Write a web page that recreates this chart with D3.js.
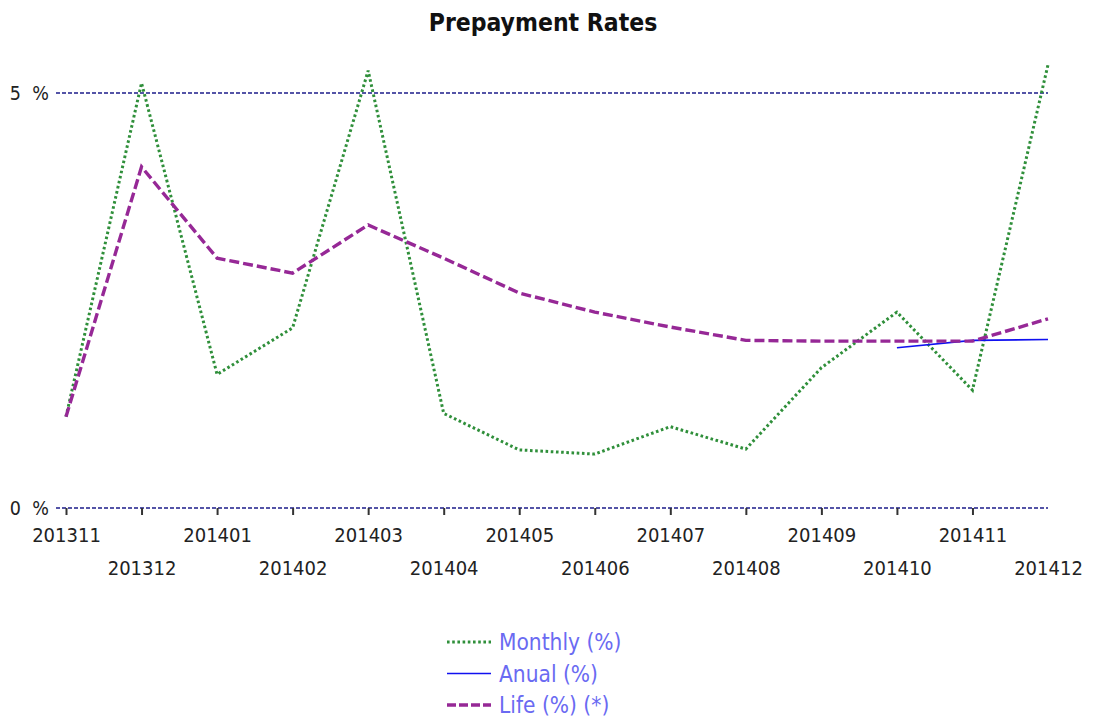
<!DOCTYPE html>
<html>
<head>
<meta charset="utf-8">
<script src="https://cdn.jsdelivr.net/npm/d3@7"></script>
<style>
  body { margin: 0; background: #fff; }
  svg text { font-family: "DejaVu Sans Condensed", "DejaVu Sans", sans-serif; }
</style>
</head>
<body>
<div id="chart"></div>
<script>
const months = ["201311","201312","201401","201402","201403","201404","201405",
                "201406","201407","201408","201409","201410","201411","201412"];
const monthly = [1.10, 5.12, 1.61, 2.17, 5.27, 1.14, 0.70, 0.65, 0.98, 0.71, 1.69, 2.36, 1.42, 5.34];
const anual   = [null, null, null, null, null, null, null, null, null, null, null, 1.93, 2.02, 2.03];
const life    = [1.10, 4.11, 3.01, 2.83, 3.41, 3.01, 2.59, 2.36, 2.18, 2.02, 2.01, 2.01, 2.01, 2.28];
const yTicks = [0, 5];

const WIDTH = 1096, HEIGHT = 722;
const MARGINS = { left: 66, right: 48, top: 93, bottom: 214 };

const series = [
    { name: "Monthly (%)", values: monthly, color: "#2f8f3a", width: 3, dash: "2.6,2.6" },
    { name: "Anual (%)", values: anual, color: "#1010f0", width: 1.6, dash: null },
    { name: "Life (%) (*)", values: life, color: "#962896", width: 3.4, dash: "10,4" }
];

const svg = d3.select("#chart").append("svg")
    .attr("width", WIDTH)
    .attr("height", HEIGHT);

const xScale = d3.scalePoint()
    .domain(months)
    .range([MARGINS.left, WIDTH - MARGINS.right]);

const yScale = d3.scaleLinear()
    .domain([0, 5])
    .range([HEIGHT - MARGINS.bottom, MARGINS.top]);

// title
svg.append("text")
    .attr("x", 543)
    .attr("y", 31)
    .attr("text-anchor", "middle")
    .attr("font-size", 24.5)
    .attr("font-weight", "bold")
    .attr("fill", "#111")
    .text("Prepayment Rates");

// horizontal grid lines + y labels
const grid = svg.append("g");
grid.selectAll("line")
    .data(yTicks)
    .enter().append("line")
    .attr("x1", 56)
    .attr("x2", WIDTH - MARGINS.right)
    .attr("y1", d => yScale(d))
    .attr("y2", d => yScale(d))
    .attr("stroke", "#1c1c8a")
    .attr("stroke-width", 1.6)
    .attr("stroke-dasharray", "4,2");
const yLab = grid.selectAll("g.ylab")
    .data(yTicks)
    .enter().append("g")
    .attr("class", "ylab")
    .attr("font-size", 19.5)
    .attr("fill", "#222");
yLab.append("text")
    .attr("x", 21)
    .attr("y", d => yScale(d) + 7)
    .attr("text-anchor", "end")
    .text(d => d);
yLab.append("text")
    .attr("x", 49)
    .attr("y", d => yScale(d) + 7)
    .attr("text-anchor", "end")
    .text("%");

// x axis ticks, labels staggered on two rows
const xAxis = d3.axisBottom(xScale).tickSize(7).tickPadding(0);
const xG = svg.append("g")
    .attr("transform", "translate(0," + yScale(0) + ")")
    .call(xAxis);
xG.select(".domain").remove();
xG.selectAll(".tick line")
    .attr("stroke", "#333")
    .attr("stroke-width", 2)
    .attr("display", (d, i) => i === months.length - 1 ? "none" : null);
xG.selectAll(".tick text")
    .attr("font-size", 20)
    .attr("font-family", "DejaVu Sans Condensed, DejaVu Sans, sans-serif")
    .attr("fill", "#222")
    .attr("dy", null)
    .attr("y", (d, i) => i % 2 === 0 ? 34 : 67);

// lines
const line = d3.line()
    .defined(d => d != null)
    .x((d, i) => xScale(months[i]))
    .y(d => yScale(d));

svg.append("g").selectAll("path")
    .data(series)
    .enter().append("path")
    .attr("d", s => line(s.values))
    .attr("fill", "none")
    .attr("stroke", s => s.color)
    .attr("stroke-width", s => s.width)
    .attr("stroke-dasharray", s => s.dash);

// legend
const legend = svg.append("g").attr("transform", "translate(447,642)");
const item = legend.selectAll("g")
    .data(series)
    .enter().append("g")
    .attr("transform", (d, i) => "translate(0," + (i * 31.5) + ")");
item.append("line")
    .attr("x1", 0).attr("x2", 44)
    .attr("y1", 0).attr("y2", 0)
    .attr("stroke", s => s.color)
    .attr("stroke-width", s => s.width)
    .attr("stroke-dasharray", (s, i) => i === 2 ? "9,3" : s.dash);
item.append("text")
    .attr("x", 52)
    .attr("y", 8)
    .attr("font-size", 22.5)
    .attr("fill", "#6a6af2")
    .text(s => s.name);
</script>
</body>
</html>
